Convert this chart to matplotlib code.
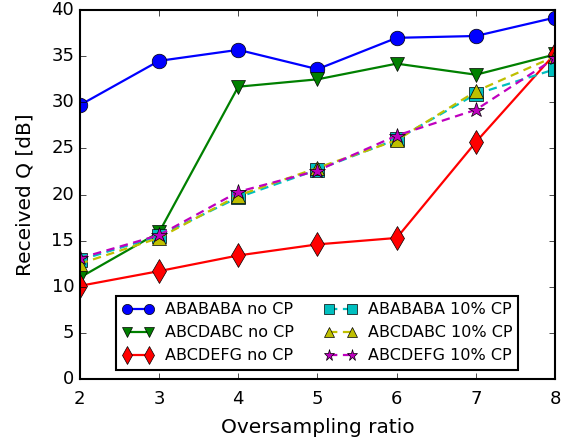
import matplotlib
matplotlib.use("Agg")
import matplotlib.pyplot as plt

plt.style.use('classic')

x = [2, 3, 4, 5, 6, 7, 8]
abababa_nocp = [29.7, 34.5, 35.7, 33.6, 37.0, 37.2, 39.2]
abcdabc_nocp = [11.0, 15.9, 31.7, 32.5, 34.2, 33.0, 35.2]
abcdefg_nocp = [10.1, 11.7, 13.4, 14.6, 15.3, 25.7, 35.3]
abababa_10 = [12.9, 15.5, 19.7, 22.7, 26.0, 30.9, 33.6]
abcdabc_10 = [12.5, 15.3, 19.9, 22.9, 25.9, 31.2, 35.0]
abcdefg_10 = [13.1, 15.6, 20.3, 22.6, 26.4, 29.2, 34.8]
labels = ["ABABABA no CP", "ABCDABC no CP", "ABCDEFG no CP",
          "ABABABA 10% CP", "ABCDABC 10% CP", "ABCDEFG 10% CP"]

fig = plt.figure(figsize=(5.7, 4.42), dpi=100, facecolor='white')
ax = fig.add_axes([0.140, 0.1425, 0.834, 0.8345])

ms = 10.5
lw = 1.6
ax.plot(x, abababa_nocp, 'b-o', lw=lw, ms=ms, label=labels[0])
ax.plot(x, abcdabc_nocp, 'g-v', lw=lw, ms=ms, label=labels[1])
ax.plot(x, abcdefg_nocp, 'r-d', lw=lw, ms=ms+2, label=labels[2])
ax.plot(x, abababa_10, 'c--s', lw=lw, ms=ms-1, label=labels[3], dashes=(6, 4))
ax.plot(x, abcdabc_10, 'y--^', lw=lw, ms=ms, label=labels[4], dashes=(6, 4))
ax.plot(x, abcdefg_10, 'm--*', lw=lw, ms=ms+1, label=labels[5], dashes=(6, 4))

ax.set_xlim(2, 8)
ax.set_ylim(0, 40)
ax.set_xlabel("Oversampling ratio", fontsize=14.5, labelpad=7)
ax.set_ylabel("Received Q [dB]", fontsize=14.5, labelpad=12)
ax.tick_params(labelsize=13)
ax.tick_params(axis='x', pad=8)
for s in ax.spines.values():
    s.set_linewidth(1.5)

leg = ax.legend(loc='lower center', ncol=2, fontsize=11.5, numpoints=2,
                bbox_to_anchor=(0.499, 0.012), handlelength=2.0,
                columnspacing=1.9, borderaxespad=0.3, handletextpad=0.7,
                labelspacing=0.5, markerscale=0.7, borderpad=0.4)
leg.get_frame().set_linewidth(1.5)

fig.savefig("out.png", dpi=100, facecolor='white')
